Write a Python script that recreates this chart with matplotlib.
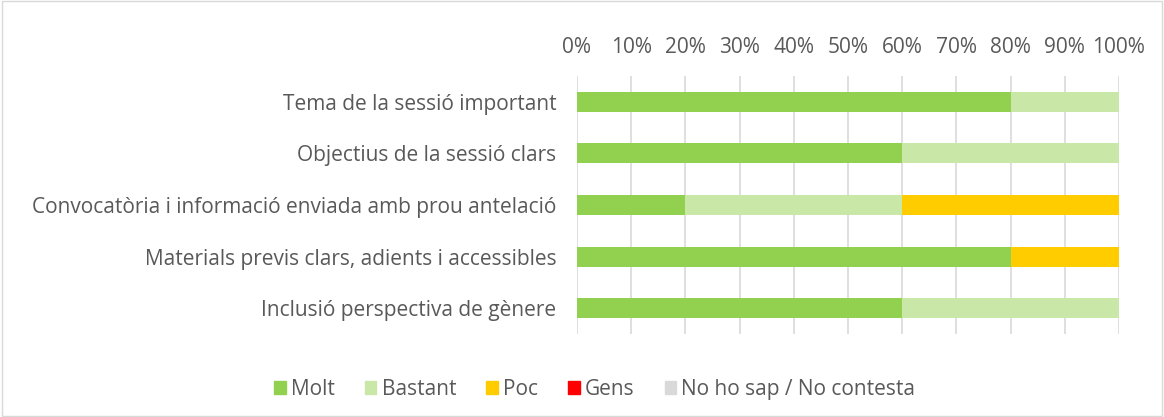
import matplotlib
matplotlib.use('Agg')
import matplotlib.pyplot as plt
from matplotlib.patches import Rectangle, Patch
import numpy as np

plt.rcParams['font.family'] = ['Open Sans', 'DejaVu Sans']

categories = [
    'Tema de la sessió important',
    'Objectius de la sessió clars',
    'Convocatòria i informació enviada amb prou antelació',
    'Materials previs clars, adients i accessibles',
    'Inclusió perspectiva de gènere',
]
series_names = ['Molt', 'Bastant', 'Poc', 'Gens', 'No ho sap / No contesta']
molt = [80, 60, 20, 80, 60]
bastant = [20, 40, 40, 0, 40]
poc = [0, 0, 40, 20, 0]
gens = [0, 0, 0, 0, 0]
no_sap = [0, 0, 0, 0, 0]
colors = ['#92D050', '#C9E7A7', '#FFCC00', '#FF0000', '#D9D9D9']
tick_labels = [f'{v}%' for v in range(0, 101, 10)]

text_col = '#595959'

fig = plt.figure(figsize=(11.64, 4.17), dpi=100)
ax = fig.add_axes([0.4957, 0.199, 0.4656, 0.619])

y = np.arange(len(categories))
left = np.zeros(len(categories))
for name, vals, c in zip(series_names, [molt, bastant, poc, gens, no_sap], colors):
    vals = np.array(vals, dtype=float)
    ax.barh(y, vals, left=left, height=0.39, color=c, label=name, zorder=3)
    left += vals

ax.set_xlim(0, 100)
ax.set_ylim(len(categories) - 0.5, -0.5)
ax.set_xticks(range(0, 101, 10))
ax.set_xticklabels(tick_labels)
ax.xaxis.tick_top()
ax.set_yticks(y)
ax.set_yticklabels(categories)
ax.tick_params(axis='both', length=0, labelsize=15, colors=text_col)
ax.tick_params(axis='x', pad=13)
ax.tick_params(axis='y', pad=15)
ax.grid(axis='x', color='#D9D9D9', linewidth=1.2, zorder=0)
for s in ax.spines.values():
    s.set_visible(False)

handles = [Patch(color=c) for c in colors]
leg = fig.legend(handles, series_names, loc='center', bbox_to_anchor=(0.511, 0.066),
                 ncol=5, frameon=False, fontsize=15, handlelength=0.55, handleheight=0.55,
                 handletextpad=0.25, columnspacing=1.45)
for t in leg.get_texts():
    t.set_color(text_col)

fig.patches.append(Rectangle((0.002, 0.003), 0.996, 0.994, transform=fig.transFigure,
                             fill=False, edgecolor='#D9D9D9', linewidth=1))

fig.savefig('out.png', dpi=100)
